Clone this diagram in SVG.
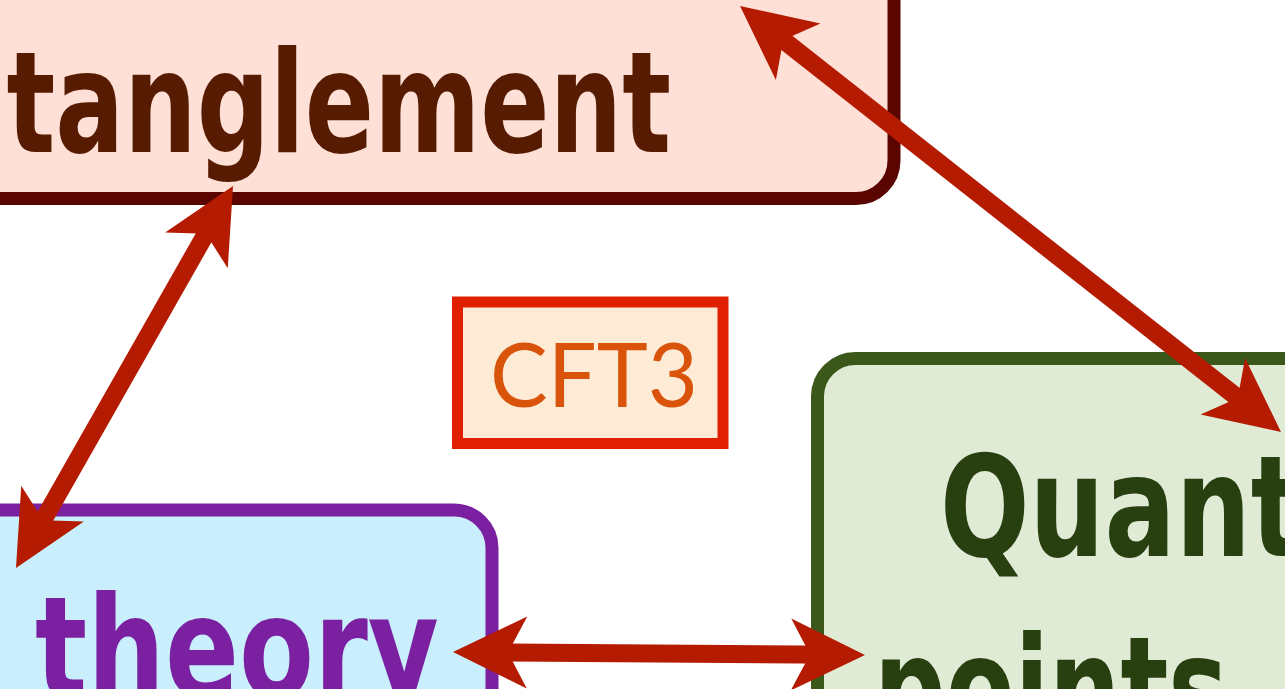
<svg xmlns="http://www.w3.org/2000/svg" width="1285" height="689" viewBox="0 0 1285 689">
  <defs>
    <style>
      .lbl { font-family: "Comic Sans MS", "DejaVu Sans", sans-serif; font-weight: bold; font-size: 140px; }
      .arrow { fill: none; stroke: #b51b00; stroke-width: 18; marker-start: url(#head); marker-end: url(#head); }
      .box { stroke-width: 13; }
    </style>
    <marker id="head" viewBox="-50 -40 90 80" markerWidth="90" markerHeight="80" refX="0" refY="0" markerUnits="userSpaceOnUse" orient="auto-start-reverse">
      <path d="M30,0 L-44,-36 L-25,0 L-44,36 Z" fill="#b51b00"/>
    </marker>
  </defs>
  <rect width="1285" height="689" fill="#ffffff"/>

  <g id="node-entanglement">
    <rect class="box" x="-300" y="-200" width="1194" height="398.5" rx="38" fill="#fee0d6" stroke="#5a0500"/>
    <text class="lbl" x="-136" y="152" fill="#561b00" textLength="807" lengthAdjust="spacingAndGlyphs">Entanglement</text>
  </g>

  <g id="node-theory">
    <rect class="box" x="-300" y="510" width="792" height="400" rx="38" fill="#c9eefc" stroke="#7b20a0"/>
    <text class="lbl" x="35" y="697" fill="#7b20a0" textLength="404" lengthAdjust="spacingAndGlyphs">theory</text>
  </g>

  <g id="node-quantum">
    <rect class="box" x="817.5" y="358.5" width="700" height="500" rx="38" fill="#e0ebd5" stroke="#3b571a"/>
    <text class="lbl" x="940" y="556" fill="#283f10" textLength="546" lengthAdjust="spacingAndGlyphs">Quantum</text>
    <text class="lbl" x="874" y="737" fill="#283f10" textLength="354" lengthAdjust="spacingAndGlyphs">points</text>
  </g>

  <g id="node-cft3">
    <rect x="457.5" y="302" width="265.5" height="141.5" fill="#fdebd6" stroke="#e02000" stroke-width="11"/>
    <text x="594" y="407" text-anchor="middle" font-family="Lato, 'Open Sans', sans-serif" font-size="90" fill="#d9540a" textLength="208" lengthAdjust="spacingAndGlyphs">CFT3</text>
  </g>

  <g id="connectors">
    <line class="arrow" x1="218.2" y1="212.1" x2="30.8" y2="541.9"/>
    <line class="arrow" x1="763.6" y1="24.6" x2="1257.4" y2="413.4"/>
    <line class="arrow" x1="483" y1="652.2" x2="835" y2="654.8"/>
  </g>
</svg>
